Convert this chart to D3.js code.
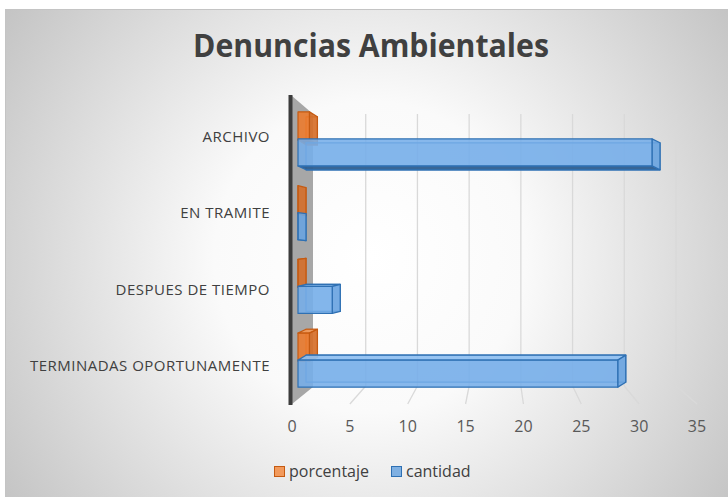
<!DOCTYPE html>
<meta charset="utf-8">
<title>Denuncias Ambientales</title>
<style>
  body { margin: 0; background: #fff; }
  text { font-family: "Open Sans", sans-serif; }
</style>
<body>
<script src="https://d3js.org/d3.v7.min.js"></script>
<script>

const categories = ["ARCHIVO", "EN TRAMITE", "DESPUES DE TIEMPO", "TERMINADAS OPORTUNAMENTE"];
const cantidad = [31, 0, 3, 28];
const porcentaje = [1, 0, 0, 1];
const ticks = [0, 5, 10, 15, 20, 25, 30, 35];
const seriesNames = ["porcentaje", "cantidad"];

const width = 728, height = 497;

const svg = d3.select("body").append("svg")
    .attr("width", width)
    .attr("height", height);

const defs = svg.append("defs");
const grad = defs.append("radialGradient")
    .attr("id", "bg")
    .attr("gradientUnits", "userSpaceOnUse")
    .attr("cx", 370).attr("cy", 257).attr("r", 445);
grad.append("stop").attr("offset", 0).attr("stop-color", "#ffffff");
grad.append("stop").attr("offset", 0.35).attr("stop-color", "#fafafa");
grad.append("stop").attr("offset", 1).attr("stop-color", "#c3c3c3");

svg.append("rect")
    .attr("x", 5.5).attr("y", 9.5)
    .attr("width", 740).attr("height", 500)
    .attr("fill", "url(#bg)")
    .attr("stroke", "#c4c4c4");

// three scales: front edge of floor (tick labels), bar plane, back wall
const xFront = d3.scaleLinear().domain([0, 35]).range([292, 697]);
const xBar = d3.scaleLinear().domain([0, 35]).range([298, 298 + 35 * 11.42]);
const xBack = d3.scaleLinear().domain([0, 35]).range([314, 676]);

const y = d3.scaleBand().domain(categories).range([103, 398]);
const yLabel = d3.scaleBand().domain(categories).range([99, 404]);

const backTop = 114, backBottom = 386, frontTop = 96, frontBottom = 404;

// side wall
svg.append("polygon")
    .attr("points", [[292, frontTop], [313, backTop], [313, backBottom + 1], [292, frontBottom]].join(" "))
    .attr("fill", "#a7a7a7");
svg.append("line")
    .attr("x1", 290.5).attr("x2", 290.5)
    .attr("y1", frontTop - 1).attr("y2", frontBottom + 1)
    .attr("stroke", "#3c3c3c").attr("stroke-width", 4);

// gridlines on the back wall + floor
svg.selectAll(".grid").data(ticks.slice(1)).enter().append("line")
    .attr("class", "grid")
    .attr("x1", d => xBack(d)).attr("x2", d => xBack(d))
    .attr("y1", backTop).attr("y2", backBottom)
    .attr("stroke", "#d9d9d9").attr("stroke-width", 1.3);
svg.selectAll(".floor").data(ticks.slice(1)).enter().append("line")
    .attr("class", "floor")
    .attr("x1", d => xBack(d)).attr("x2", d => xFront(d))
    .attr("y1", backBottom).attr("y2", frontBottom)
    .attr("stroke", "#d9d9d9").attr("stroke-width", 1.3);

const styles = {
  porcentaje: { front: "#ee7b2c", side: "#d56f2a", dark: "#9c4a12", light: "#f39a5a", stroke: "#c55a11" },
  cantidad: { front: "#76aee9", side: "#6aa4e0", dark: "#2f5f90", light: "#8fc0f2", stroke: "#2e70b3" }
};

function box(g, x0, x1, y0, y1, dx, dy, s) {
  const poly = (pts, fill, op) => g.append("polygon")
      .attr("points", pts.map(p => p.join(",")).join(" "))
      .attr("fill", fill).attr("fill-opacity", op)
      .attr("stroke", s.stroke).attr("stroke-width", 1.2)
      .attr("stroke-linejoin", "round");
  // back face (seen through)
  poly([[x0 + dx, y0 + dy], [x1 + dx, y0 + dy], [x1 + dx, y1 + dy], [x0 + dx, y1 + dy]], s.front, 0.25);
  if (dy > 0) {
    poly([[x0, y1], [x1, y1], [x1 + dx, y1 + dy], [x0 + dx, y1 + dy]], s.dark, 0.95);
  } else {
    poly([[x0, y0], [x1, y0], [x1 + dx, y0 + dy], [x0 + dx, y0 + dy]], s.light, 0.9);
  }
  poly([[x1, y0], [x1 + dx, y0 + dy], [x1 + dx, y1 + dy], [x1, y1]], s.side, 0.9);
  poly([[x0, y0], [x1, y0], [x1, y1], [x0, y1]], s.front, 0.88);
}

const bars = svg.append("g");
categories.forEach((cat, i) => {
  const c = y(cat) + y.bandwidth() / 2;
  const oy0 = c - 28, oy1 = c;
  box(bars, xBar(0), xBar(porcentaje[i]), oy0, oy1, 8,
      (250 - (oy0 + oy1) / 2) * 0.04, styles.porcentaje);
  const by0 = c - 1, by1 = c + 26;
  box(bars, xBar(0), xBar(cantidad[i]), by0, by1, 8,
      (250 - (by0 + by1) / 2) * 0.04, styles.cantidad);
});

// category labels
svg.selectAll(".cat").data(categories).enter().append("text")
    .attr("class", "cat")
    .attr("x", 270)
    .attr("y", d => yLabel(d) + yLabel.bandwidth() / 2 + 5)
    .attr("text-anchor", "end")
    .attr("font-size", 15)
    .attr("letter-spacing", 0.5)
    .attr("fill", "#404040")
    .text(d => d);

// tick labels
svg.selectAll(".tick").data(ticks).enter().append("text")
    .attr("class", "tick")
    .attr("x", d => xFront(d))
    .attr("y", 432)
    .attr("text-anchor", "middle")
    .attr("font-size", 16)
    .attr("fill", "#595959")
    .text(d => d);

// title
svg.append("text")
    .attr("x", 193).attr("y", 57)
    .attr("font-size", 33).attr("font-weight", "bold")
    .attr("fill", "#404040")
    .attr("textLength", 356).attr("lengthAdjust", "spacingAndGlyphs")
    .text("Denuncias Ambientales");

// legend
const legendX = [274, 391];
const legend = svg.selectAll(".legend").data(seriesNames).enter().append("g")
    .attr("class", "legend")
    .attr("transform", (d, i) => `translate(${legendX[i]},466)`);
legend.append("rect")
    .attr("x", 0.5).attr("y", 0.5).attr("width", 10).attr("height", 10)
    .attr("fill", d => d === "porcentaje" ? "#f29a5c" : "#7fb0e2")
    .attr("stroke", d => styles[d].stroke);
legend.append("text")
    .attr("x", 15).attr("y", 11)
    .attr("font-size", 16)
    .attr("fill", "#404040")
    .text(d => d);

</script>
</body>
